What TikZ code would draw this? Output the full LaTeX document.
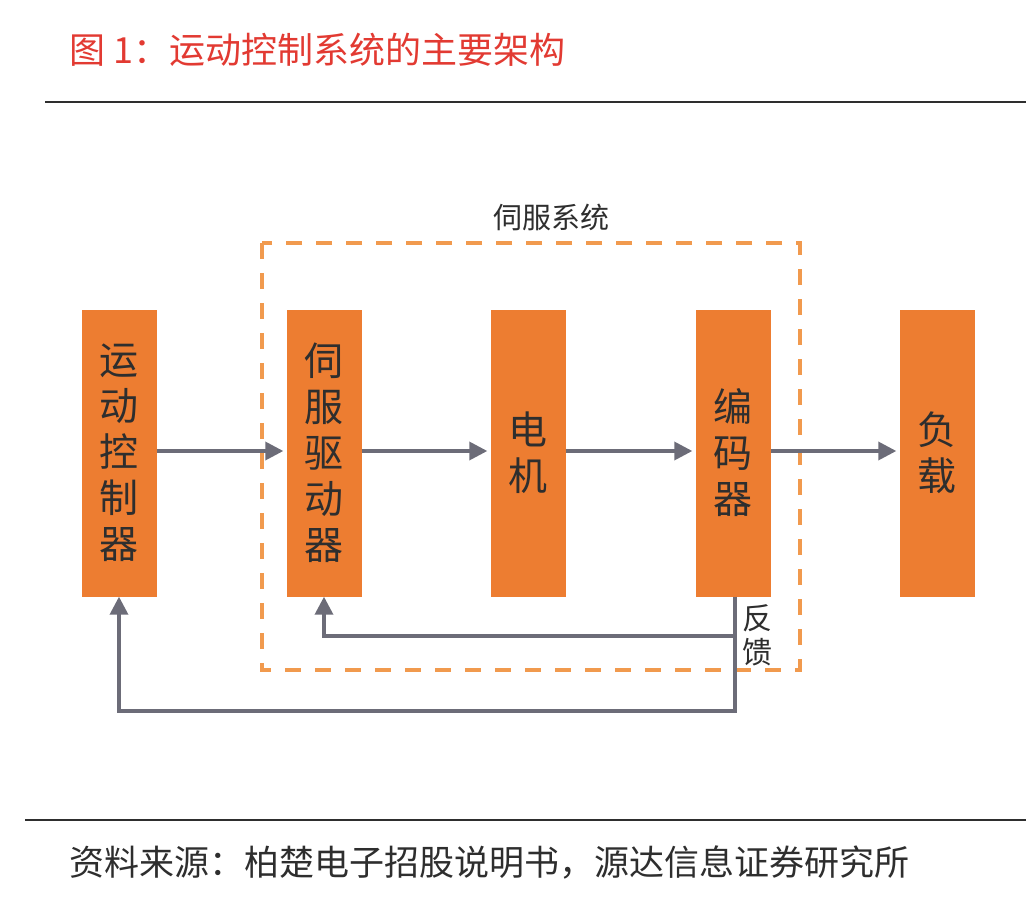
\documentclass[tikz,border=0pt]{standalone}
\usepackage{fontspec}
\setmainfont{Noto Sans CJK SC}
\usetikzlibrary{arrows.meta, positioning, fit}
\definecolor{blkorange}{HTML}{ED7D31}
\definecolor{dashorange}{HTML}{F19A4E}
\definecolor{arrgray}{HTML}{6C6C78}
\definecolor{titlered}{HTML}{E23A32}
\definecolor{txtgray}{HTML}{2E2E2E}

\begin{document}
\begin{tikzpicture}[x=1pt, y=-1pt,
  blk/.style={fill=blkorange, minimum width=75pt, minimum height=287pt, inner sep=0pt, align=center, text=txtgray, font=\fontsize{39}{46}\selectfont},
  arr/.style={draw=arrgray, line width=3.5pt, -{Triangle[length=18pt,width=18pt]}},
  rule/.style={draw=txtgray, line width=2.5pt}]
  \useasboundingbox (0,0) rectangle (1026,900);

  % title and rules
  \node[anchor=west, text=titlered, font=\fontsize{36}{40}\selectfont] (title) at (66,50) {图 1：运动控制系统的主要架构};
  \draw[rule] (45,102) -- (1026,102);
  \draw[rule] (25,820) -- (1026,820);
  \node[anchor=west, text=txtgray, font=\fontsize{35}{40}\selectfont] (src) at (66,862) {资料来源：柏楚电子招股说明书，源达信息证券研究所};

  % servo frame
  \draw[dashorange, line width=3.5pt, dash pattern=on 16pt off 14pt] (262,243) rectangle (800,670);
  \node[text=txtgray, font=\fontsize{29}{32}\selectfont] (servo) at (551,217) {伺服系统};

  % blocks
  \node[blk] (ctrl) at (119,453) {运\\动\\控\\制\\器};
  \node[blk] (drv) at (324,453) {伺\\服\\驱\\动\\器};
  \node[blk] (motor) at (528,453) {电\\机};
  \node[blk] (enc) at (733,453) {编\\码\\器};
  \node[blk] (load) at (937,453) {负\\载};

  \draw[arr, shorten >=3pt] (ctrl.east |- 0,451) -- (drv.west |- 0,451);
  \draw[arr, shorten >=3pt] (drv.east |- 0,451) -- (motor.west |- 0,451);
  \draw[arr, shorten >=3pt] (motor.east |- 0,451) -- (enc.west |- 0,451);
  \draw[arr, shorten >=3pt] (enc.east |- 0,451) -- (load.west |- 0,451);

  % feedback
  \coordinate (f1) at (735,636);
  \coordinate (f2) at (735,711);
  \draw[arr] (enc.south -| f2) -- (f2) -| (ctrl.south);
  \draw[arr] (f1) -| (drv.south);
  \node[text=txtgray, align=center, font=\fontsize{30}{34}\selectfont] (fb) at (757,635) {反\\馈};
\end{tikzpicture}
\end{document}
